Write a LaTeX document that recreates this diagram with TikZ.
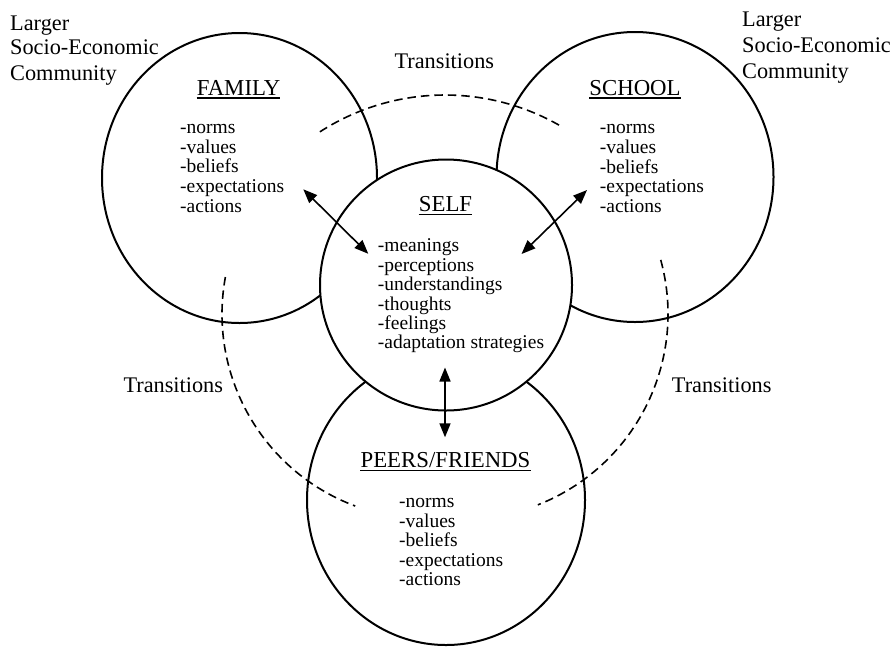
\documentclass[tikz,border=0pt]{standalone}
\usepackage{fontspec}
\setmainfont{Liberation Serif}
\usetikzlibrary{shapes.geometric,arrows.meta}
\tikzset{
  ring/.style={ellipse, draw, line width=2pt, fill=white, inner sep=0pt, outer sep=0pt},
  dasharc/.style={line width=1.6pt, dash pattern=on 8.5pt off 5pt},
  link/.style={line width=1.6pt, {Triangle[length=14pt,width=11pt]}-{Triangle[length=14pt,width=11pt]}},
  item/.style={anchor=base west, inner sep=0pt, font=\fontsize{19.5}{19.5}\selectfont},
  head/.style={anchor=base, inner sep=0pt, font=\fontsize{22.8}{22.8}\selectfont},
  lbl/.style={anchor=base west, inner sep=0pt, font=\fontsize{22.3}{22.3}\selectfont},
  uline/.style={line width=1.4pt}
}
\begin{document}
\begin{tikzpicture}[x=1pt,y=-1pt]
\useasboundingbox (0,0) rectangle (893,646);
% outer circles
\node[ring, minimum width=275pt, minimum height=290pt] (family) at (239.5,178) {};
\node[ring, minimum width=277pt, minimum height=290pt] (school) at (635,177) {};
\node[ring, minimum width=278pt, minimum height=290pt] (peers) at (446,500) {};
% transitions arcs
\draw[dasharc] (445,326) ++(237.2:231) arc[start angle=237.2, end angle=299.8, radius=231];
\draw[dasharc] (427,314) ++(190.4:205) arc[start angle=190.4, end angle=110.5, radius=205];
\draw[dasharc] (463,314) ++(-15.3:205) arc[start angle=-15.3, end angle=68.6, radius=205];
% self circle on top
\node[ring, minimum width=252pt, minimum height=251pt] (self) at (446,285) {};
% corner labels
\node[lbl] (l1) at (10,30) {Larger};
\node[lbl] (l2) at (10,54.5) {Socio-Economic};
\node[lbl] (l3) at (10,80) {Community};
\node[lbl] (r1) at (742,26.7) {Larger};
\node[lbl] (r2) at (742,52.3) {Socio-Economic};
\node[lbl] (r3) at (742,78.3) {Community};
% transitions labels
\node[lbl] (tt) at (394.3,68.3) {Transitions};
\node[lbl] (tl) at (123.3,392.7) {Transitions};
\node[lbl] (tr) at (671.7,392.7) {Transitions};
% headings
\node[head] (hfam) at (238.5,95) {FAMILY};
\node[head] (hsch) at (635,95) {SCHOOL};
\node[head] (hself) at (445.5,211.7) {SELF};
\node[head] (hpeer) at (445.5,467.3) {PEERS/FRIENDS};
\foreach \h in {hfam,hsch,hself,hpeer}
  \draw[uline] ([yshift=-3pt]\h.base west) -- ([yshift=-3pt]\h.base east);
% lists
\foreach \t [count=\i from 0] in {-norms,-values,-beliefs,-expectations,-actions}
  \node[item] (fam\i) at (180,{133.3+19.7*\i}) {\t};
\foreach \t [count=\i from 0] in {-norms,-values,-beliefs,-expectations,-actions}
  \node[item] (sch\i) at (599.7,{133.6+19.7*\i}) {\t};
\foreach \t [count=\i from 0] in {-meanings,-perceptions,-understandings,-thoughts,-feelings,-adaptation strategies}
  \node[item] (slf\i) at (377.7,{251.7+19.45*\i}) {\t};
\foreach \t [count=\i from 0] in {-norms,-values,-beliefs,-expectations,-actions}
  \node[item] (pr\i) at (399,{507.7+19.5*\i}) {\t};
% arrows
\coordinate (fa) at (303.3,189.3);
\coordinate (sa) at (368.3,253.8);
\coordinate (sb) at (521.5,254);
\coordinate (sc) at (587,190);
\coordinate (sd) at (445,367.5);
\coordinate (pa) at (445,437.3);
\draw[link] (fa) -- (sa);
\draw[link] (sb) -- (sc);
\draw[link] (sd) -- (pa);
\end{tikzpicture}
\end{document}
